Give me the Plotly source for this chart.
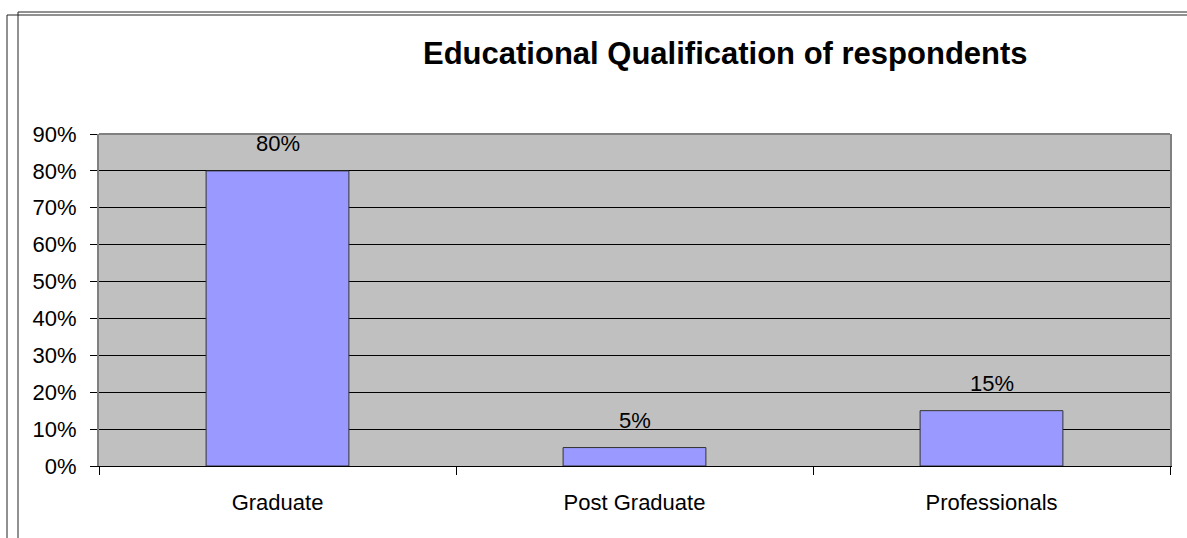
import plotly.graph_objects as go

categories = ["Graduate", "Post Graduate", "Professionals"]
shares = [0.80, 0.05, 0.15]
share_labels = ["80%", "5%", "15%"]

W, H = 1187, 538
L, R, T, B = 99, 1170, 134, 466  # plot area in pixels


def px(x):
    return (x - L) / (R - L)


def py(y):
    return (B - y) / (B - T)


fig = go.Figure()

fig.add_trace(
    go.Bar(
        x=categories,
        y=shares,
        marker=dict(color="#9999FF", line=dict(color="#333333", width=1)),
        width=0.4,
        showlegend=False,
    )
)

for cat, val, lab in zip(categories, shares, share_labels):
    fig.add_annotation(
        x=cat, y=val, text=lab, showarrow=False,
        yanchor="middle", yshift=27,
        font=dict(size=22, color="black", family="Liberation Sans, Arial"),
    )

# outer chart frame
frame = [
    (px(7), py(15), px(7), py(H + 5)),
    (px(18), py(12), px(18), py(H + 5)),
    (px(7), py(15), px(W + 5), py(15)),
    (px(18), py(12), px(W + 5), py(12)),
]
for x0, y0, x1, y1 in frame:
    fig.add_shape(type="line", xref="paper", yref="paper",
                  x0=x0, y0=y0, x1=x1, y1=y1,
                  line=dict(color="#222222", width=1))

# grey border on top of the plot area
fig.add_shape(type="line", xref="paper", yref="paper",
              x0=0, y0=1, x1=1, y1=1,
              line=dict(color="#808080", width=2))

fig.add_annotation(
    xref="paper", yref="paper", x=px(725), y=py(53),
    text="<b>Educational Qualification of respondents</b>",
    showarrow=False, xanchor="center", yanchor="middle",
    font=dict(size=31, color="black", family="Liberation Sans, Arial"),
)

fig.update_layout(
    width=W,
    height=H,
    margin=dict(l=L, r=W - R, t=T, b=H - B, pad=0),
    paper_bgcolor="white",
    plot_bgcolor="#C0C0C0",
    font=dict(family="Liberation Sans, Arial", size=22, color="black"),
    bargap=0.6,
)

fig.update_xaxes(
    type="category",
    showgrid=False,
    showline=True,
    linecolor="black",
    linewidth=1,
    ticks="outside",
    tickson="boundaries",
    ticklen=8,
    tickcolor="black",
    ticklabelstandoff=17,
    zeroline=False,
)

fig.update_yaxes(
    range=[0, 0.9],
    dtick=0.1,
    tickformat=".0%",
    showgrid=True,
    gridcolor="black",
    gridwidth=1,
    showline=True,
    linecolor="#808080",
    linewidth=2,
    mirror=True,
    ticks="outside",
    ticklen=7,
    tickcolor="black",
    ticklabelstandoff=9,
    zeroline=False,
)

fig.write_html(
    "out.html",
    config={"displayModeBar": False},
    post_script="document.body.style.margin='0';",
)
